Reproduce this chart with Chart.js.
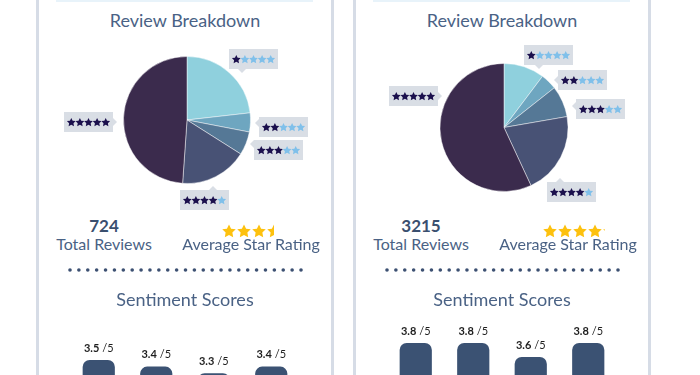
<!DOCTYPE html>
<html>
<head>
<meta charset="utf-8">
<script src="https://cdn.jsdelivr.net/npm/chart.js@4.4.0/dist/chart.umd.min.js"></script>
<style>
  body { margin: 0; width: 700px; height: 375px; overflow: hidden; background: #fff; position: relative; font-family: Lato, sans-serif; }
  .card { position: absolute; top: 0; width: 298px; height: 375px; }
  .card .edge { position: absolute; top: 0; width: 3px; height: 375px; background: #d6dce6; }
  .card .topline { position: absolute; top: 0; left: 20px; width: 257px; height: 2px; background: #e8f3fa; }
  .card canvas { position: absolute; }
  .txt { position: absolute; text-align: center; white-space: nowrap; color: #4a6285; }
  .title { left: 0; width: 298px; font-size: 18px; line-height: 18px; }
  .big { font-size: 17px; line-height: 17px; font-weight: bold; color: #3a4f6f; }
  .lbl { font-size: 16px; line-height: 16px; }
</style>
</head>
<body>
<div class="card" id="cardA"></div>
<div class="card" id="cardB"></div>
<script>
// datos
const starLevels = [1, 2, 3, 4, 5];
const reviewsA = [168, 35, 43, 124, 354];
const reviewsB = [330, 132, 254, 669, 1830];
const avgStarsA = 3.5;
const avgStarsB = 4.1;
const sentimentCategories = ['Score 1', 'Score 2', 'Score 3', 'Score 4'];
const sentimentA = [3.5, 3.4, 3.3, 3.4];
const sentimentB = [3.8, 3.8, 3.6, 3.8];
const scoreMax = 5;

const sliceColors = ['#8fd0dd', '#6ea6c0', '#557896', '#485275', '#3b2b4d'];

// star shape
function drawStar(ctx, cx, cy, R, color) {
    ctx.beginPath();
    for (let i = 0; i < 10; i++) {
        const a = -Math.PI / 2 + i * Math.PI / 5;
        const rad = i % 2 ? R * 0.5 : R;
        ctx.lineTo(cx + rad * Math.cos(a), cy + rad * Math.sin(a));
    }
    ctx.closePath();
    ctx.fillStyle = color;
    ctx.fill();
}

// callout boxes with stars next to each slice
const starLabelPlugin = {
    id: 'starLabels',
    afterDatasetsDraw(chart, args, opts) {
        const ctx = chart.ctx;
        const w = 49, h = 20, p = 4;
        chart.getDatasetMeta(0).data.forEach((arc, i) => {
            const b = opts.boxes[i];
            const x0 = arc.x + b.dx, y0 = arc.y + b.dy;
            ctx.save();
            ctx.fillStyle = '#d9dee5';
            ctx.fillRect(x0, y0, w, h);
            ctx.beginPath();
            if (b.side === 'bottom') {
                ctx.moveTo(x0 + b.at - p, y0 + h); ctx.lineTo(x0 + b.at + p, y0 + h); ctx.lineTo(x0 + b.at, y0 + h + p);
            } else if (b.side === 'top') {
                ctx.moveTo(x0 + b.at - p, y0); ctx.lineTo(x0 + b.at + p, y0); ctx.lineTo(x0 + b.at, y0 - p);
            } else if (b.side === 'left') {
                ctx.moveTo(x0, y0 + b.at - p); ctx.lineTo(x0, y0 + b.at + p); ctx.lineTo(x0 - p, y0 + b.at);
            } else {
                ctx.moveTo(x0 + w, y0 + b.at - p); ctx.lineTo(x0 + w, y0 + b.at + p); ctx.lineTo(x0 + w + p, y0 + b.at);
            }
            ctx.closePath();
            ctx.fill();
            for (let s = 0; s < 5; s++) {
                const col = s < starLevels[i] ? '#1b104d' : '#80c0ea';
                drawStar(ctx, x0 + 7.3 + s * 8.6, y0 + h / 2 + 0.5, 4.6, col);
            }
            ctx.restore();
        });
    }
};

// "3.5 /5" above each bar
const scoreLabelPlugin = {
    id: 'scoreLabels',
    afterDatasetsDraw(chart) {
        const ctx = chart.ctx;
        const values = chart.data.datasets[0].data;
        chart.getDatasetMeta(0).data.forEach((bar, i) => {
            const val = values[i].toFixed(1);
            const rest = ' /' + scoreMax;
            ctx.save();
            ctx.font = 'bold 11px Lato';
            const w1 = ctx.measureText(val).width;
            ctx.font = '11px Lato';
            const w2 = ctx.measureText(rest).width;
            const x = bar.x - (w1 + w2) / 2;
            const y = bar.y - 12;
            ctx.textBaseline = 'middle';
            ctx.fillStyle = '#1e1e1e';
            ctx.font = 'bold 11px Lato';
            ctx.fillText(val, x, y);
            ctx.font = '11px Lato';
            ctx.fillText(rest, x + w1, y);
            ctx.restore();
        });
    }
};

function buildCard(el, cfg) {
    el.style.left = cfg.left + 'px';
    const total = cfg.reviews.reduce((a, b) => a + b, 0);
    el.innerHTML = `
      <div class="topline"></div>
      <div class="edge" style="left:0"></div>
      <div class="edge" style="left:295px"></div>
      <div class="txt title" style="top:11px">Review Breakdown</div>
      <canvas class="pie" width="298" height="175" style="left:0;top:40px"></canvas>
      <div class="txt big" style="left:8px;width:120px;top:217px">${total}</div>
      <div class="txt lbl" style="left:8px;width:120px;top:236px">Total Reviews</div>
      <canvas class="stars" width="80" height="18" style="left:${cfg.starsLeft}px;top:222px"></canvas>
      <div class="txt lbl" style="left:140px;width:150px;top:236px">Average Star Rating</div>
      <canvas class="dots" width="236" height="6" style="left:32px;top:267px"></canvas>
      <div class="txt title" style="top:290px">Sentiment Scores</div>
      <canvas class="bars" width="298" height="${cfg.barHeight}" style="left:0;top:250px"></canvas>
    `;

    // average rating stars
    const sctx = el.querySelector('.stars').getContext('2d');
    const full = Math.floor(cfg.avg);
    sctx.save();
    sctx.beginPath();
    sctx.rect(0, 0, full * 15 + 0.3 + (cfg.avg - full) * 13.4, 18);
    sctx.clip();
    for (let s = 0; s < 5; s++) drawStar(sctx, 7 + s * 15, 9.5, 7.1, '#fdc10e');
    sctx.restore();

    // dotted separator
    const dctx = el.querySelector('.dots').getContext('2d');
    dctx.fillStyle = '#3c5072';
    for (let d = 0; d < 27; d++) {
        dctx.beginPath();
        dctx.arc(2 + d * (231 / 26), 3, 1.8, 0, Math.PI * 2);
        dctx.fill();
    }

    new Chart(el.querySelector('.pie'), {
        type: 'pie',
        data: {
            labels: starLevels.map(s => s + ' star'),
            datasets: [{
                data: cfg.reviews,
                backgroundColor: sliceColors,
                borderColor: 'rgba(255,255,255,0.45)',
                borderWidth: 1
            }]
        },
        options: {
            responsive: false,
            animation: false,
            layout: { padding: cfg.piePad },
            plugins: {
                legend: { display: false },
                tooltip: { enabled: false },
                starLabels: { boxes: cfg.boxes }
            }
        },
        plugins: [starLabelPlugin]
    });

    new Chart(el.querySelector('.bars'), {
        type: 'bar',
        data: {
            labels: sentimentCategories,
            datasets: [{
                data: cfg.scores,
                backgroundColor: '#3b5273',
                borderRadius: 7,
                borderSkipped: false,
                barPercentage: 0.56,
                categoryPercentage: 1
            }]
        },
        options: {
            responsive: false,
            animation: false,
            layout: { padding: { left: 34, right: 34, top: cfg.barTop, bottom: 4 } },
            scales: {
                x: { display: false },
                y: { display: false, min: 0, max: scoreMax }
            },
            plugins: {
                legend: { display: false },
                tooltip: { enabled: false }
            }
        },
        plugins: [scoreLabelPlugin]
    });
}

buildCard(document.getElementById('cardA'), {
    left: 36,
    reviews: reviewsA,
    avg: avgStarsA,
    scores: sentimentA,
    starsLeft: 186,
    piePad: { left: 60, right: 56, top: 16, bottom: 31 },
    barHeight: 345,
    barTop: 11,
    boxes: [
        { dx: 42, dy: -71, side: 'bottom', at: 13 },
        { dx: 72, dy: -3, side: 'left', at: 6 },
        { dx: 67, dy: 20, side: 'left', at: 4 },
        { dx: -7, dy: 70, side: 'top', at: 33 },
        { dx: -123, dy: -8, side: 'right', at: 10 }
    ]
});

buildCard(document.getElementById('cardB'), {
    left: 353,
    reviews: reviewsB,
    avg: avgStarsB,
    scores: sentimentB,
    starsLeft: 190,
    piePad: { left: 60, right: 56, top: 23, bottom: 23 },
    barHeight: 363,
    barTop: 9,
    boxes: [
        { dx: 20, dy: -82.5, side: 'bottom', at: 15 },
        { dx: 54, dy: -57.5, side: 'left', at: 10 },
        { dx: 72, dy: -28.5, side: 'left', at: 7 },
        { dx: 43, dy: 54.5, side: 'top', at: 13 },
        { dx: -115, dy: -41.5, side: 'right', at: 10 }
    ]
});
</script>
</body>
</html>
